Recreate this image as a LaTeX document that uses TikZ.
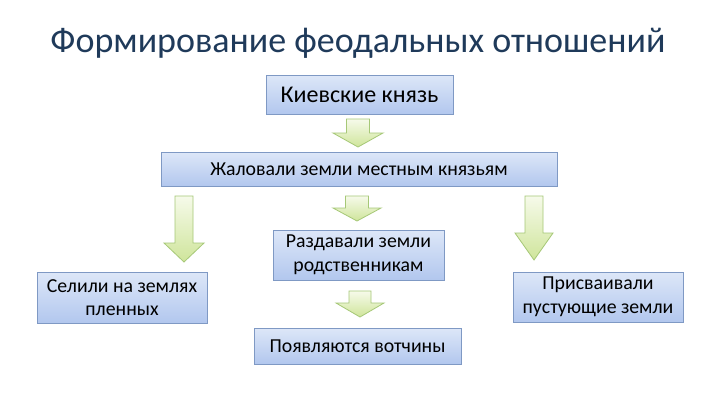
\documentclass[tikz,border=0pt]{standalone}
\usepackage{fontspec}
\setmainfont{Carlito}
\definecolor{titlecol}{HTML}{1F3A5A}
\definecolor{boxtop}{HTML}{DDE7F8}
\definecolor{boxbot}{HTML}{B2C7EE}
\definecolor{boxline}{HTML}{7F99C4}
\definecolor{arrtop}{HTML}{F6FAEA}
\definecolor{arrbot}{HTML}{CFE59B}
\definecolor{arrline}{HTML}{A6C877}
\tikzset{
  box/.style={draw=boxline, line width=0.8pt, top color=boxtop, bottom color=boxbot,
    align=center, font=\fontsize{19.8}{23.5}\selectfont, inner sep=2pt},
  garrow/.style={draw=arrline, line width=0.8pt, top color=arrtop, bottom color=arrbot, line join=miter}
}
% cx, ytop, yhead, ytip, shaft half width, head half width
\newcommand\greenarrow[6]{%
  \path[garrow] (#1-#5,#2) -- (#1+#5,#2) -- (#1+#5,#3) -- (#1+#6,#3) -- (#1,#4)
    -- (#1-#6,#3) -- (#1-#5,#3) -- cycle;}
\begin{document}
\begin{tikzpicture}[x=1pt,y=-1pt]
\useasboundingbox (0,0) rectangle (720,405);
\fill[white] (0,0) rectangle (720,405);
\node[text=titlecol, font=\fontsize{36}{40}\selectfont] (title) at (358,43) {Формирование феодальных отношений};

\node[box, minimum width=187pt, minimum height=39pt, font=\fontsize{24}{28}\selectfont] (kiev) at (359.5,94.5) {Киевские князь};
\node[box, minimum width=396pt, minimum height=34pt] (zhal) at (359,169) {Жаловали земли местным князьям};
\node[box, minimum width=171pt, minimum height=50pt] (razd) at (358.5,255) {Раздавали земли\\родственникам};
\node[box, minimum width=170pt, minimum height=51pt] (sel) at (122,297.5) {Селили на землях\\пленных};
\node[box, minimum width=170pt, minimum height=50pt] (pris) at (598,297) {Присваивали\\пустующие земли};
\node[box, minimum width=207pt, minimum height=36pt] (votch) at (357.5,346) {Появляются вотчины};

\greenarrow{358}{119}{133}{147}{11.5}{25}
\greenarrow{357}{196}{208}{221}{11.5}{24}
\greenarrow{184}{196}{243}{262}{9}{20}
\greenarrow{534}{196}{233}{260}{9}{19}
\greenarrow{360}{291}{303}{317}{11}{24}
\end{tikzpicture}
\end{document}
